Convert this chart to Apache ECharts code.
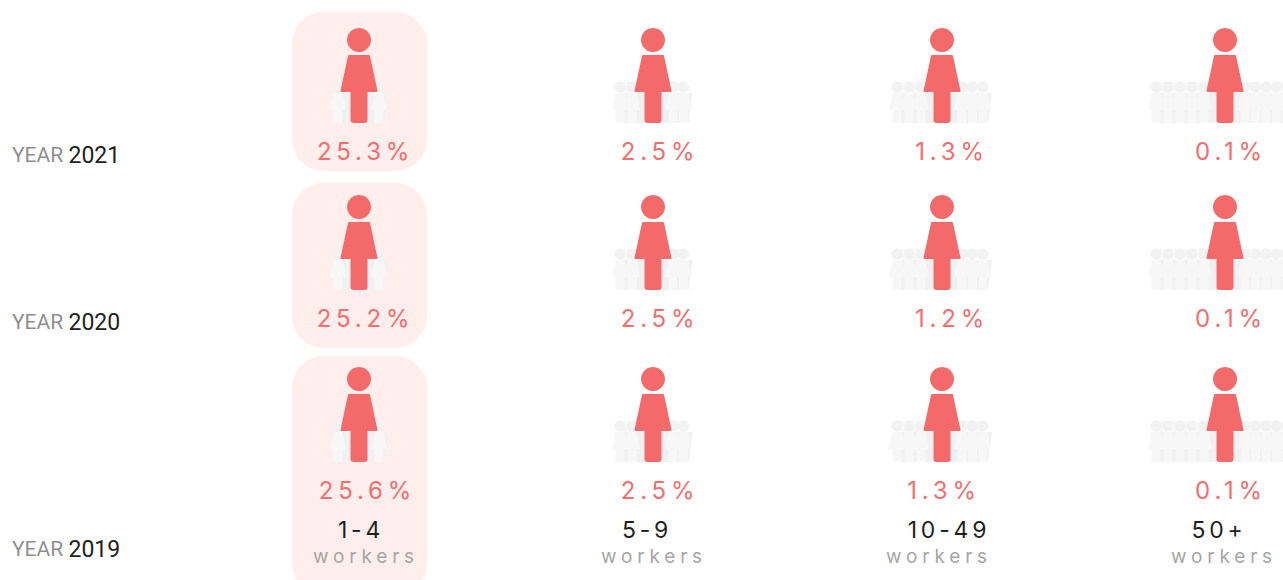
<!DOCTYPE html>
<html>
<head>
<meta charset="utf-8">
<title>Workers by company size</title>
<script src="https://cdn.jsdelivr.net/npm/echarts@6/dist/echarts.min.js"></script>
<style>
html,body{margin:0;padding:0;background:#fff;}
#chart{width:1283px;height:580px;}
/* svg renderer: letter spacing goes through css, picked by text colour */
text[fill="#f56e6e"]{letter-spacing:4.8px;}
text[fill="#1f1f1f"]{letter-spacing:3.8px;}
text[fill="#a6a6a6"]{letter-spacing:4.8px;}
</style>
</head>
<body>
<div id="chart"></div>
<script>
var sizeGroups = ['1-4', '5-9', '10-49', '50+'];
var years = ['2021', '2020', '2019'];
var share2021 = ['25.3%', '2.5%', '1.3%', '0.1%'];
var share2020 = ['25.2%', '2.5%', '1.2%', '0.1%'];
var share2019 = ['25.6%', '2.5%', '1.3%', '0.1%'];
var workersWord = 'workers';
// people standing behind the red figure, per side
var crowdLeft = [1, 2, 3, 5];
var crowdRight = [1, 2, 3, 6];
var highlighted = [1, 0, 0, 0];

// hand tuned pixel nudges, the columns and rows are not evenly spaced
var colNudge = [0, 5, 5, -1];
var headNudge = [-46, -49, -47];
var cardBox = [[-28, 131], [-24, 141], [-23, 216]];
var shareNudge = [[6.5, 7, 10, 6], [6.5, 7, 10, 6], [8.5, 7, 2, 6]];
var tierNudge = [2, -6, 7, -6];
var wordNudge = [7, 1, -3, -1];
var yearY = [155, 322, 549];

var RED = '#f46a6a';

function crowdPerson(cx, hy) {
	return [
		{type: 'circle', shape: {cx: cx, cy: hy + 47, r: 5.5}, style: {fill: '#f2f2f2'}},
		{type: 'polygon', shape: {points: [[cx - 4.5, hy + 53], [cx + 4.5, hy + 53], [cx + 8, hy + 70], [cx - 8, hy + 70]]}, style: {fill: '#f7f7f7'}},
		{type: 'rect', shape: {x: cx - 4.5, y: hy + 70, width: 9, height: 13}, style: {fill: '#f7f7f7'}}
	];
}

// darker strip behind one side of the crowd, the gaps between bodies show it
function crowdBand(a, b, hy) {
	var lo = Math.min(a, b), hi = Math.max(a, b);
	var topEnd = b > a ? hi + 9 : hi;
	var bottomEnd = b > a ? hi + 5 : hi;
	return [
		{type: 'rect', shape: {x: lo, y: hy + 42, width: hi - lo, height: 11}, style: {fill: '#f9f9f9'}},
		{type: 'polygon', shape: {points: [[lo, hy + 53], [topEnd, hy + 53], [bottomEnd, hy + 83], [lo, hy + 83]]}, style: {fill: '#f1f1f1'}}
	];
}

function bigPerson(cx, hy) {
	return [
		{type: 'circle', shape: {cx: cx, cy: hy, r: 12}, style: {fill: RED}},
		{type: 'polygon', shape: {points: [[cx - 10, hy + 16], [cx + 10, hy + 16], [cx + 17.5, hy + 51], [cx - 17.5, hy + 51]]},
			style: {fill: RED, stroke: RED, lineWidth: 2, lineJoin: 'round'}},
		{type: 'rect', shape: {x: cx - 8.5, y: hy + 45, width: 17, height: 38, r: [0, 0, 3, 3]}, style: {fill: RED}}
	];
}

function renderCell(params, api) {
	var col = api.value(0), row = api.value(1);
	var p = api.coord([col, row]);
	var cx = p[0] + colNudge[col];
	var hy = p[1] + headNudge[row];
	var kids = [];
	if (highlighted[col]) {
		kids.push({type: 'rect', shape: {x: cx - 67, y: hy + cardBox[row][0], width: 135, height: cardBox[row][1] - cardBox[row][0], r: 32}, style: {fill: '#ffeeec'}});
	}
	var i;
	var lastLeft = cx - 21 - (crowdLeft[col] - 1) * 12;
	var lastRight = cx + 20 + (crowdRight[col] - 1) * 10.5;
	kids = kids.concat(crowdBand(cx, lastLeft, hy), crowdBand(cx, lastRight, hy));
	for (i = 0; i < crowdLeft[col]; i++) {
		kids = kids.concat(crowdPerson(cx - 21 - i * 12, hy));
	}
	for (i = 0; i < crowdRight[col]; i++) {
		kids = kids.concat(crowdPerson(cx + 20 + i * 10.5, hy));
	}
	kids = kids.concat(bigPerson(cx, hy));
	kids.push({
		type: 'text',
		style: {
			x: cx + shareNudge[row][col], y: hy + 111,
			text: cellData[params.dataIndex][2],
			fill: '#f56e6e', font: '400 24px Inter', textAlign: 'center', textVerticalAlign: 'middle'
		}
	});
	return {type: 'group', children: kids};
}

function renderYear(params, api) {
	var row = api.value(0);
	return {
		type: 'text',
		style: {
			x: 12, y: yearY[row], text: '{a|YEAR} {b|' + years[row] + '}',
			textAlign: 'left', textVerticalAlign: 'middle',
			rich: {
				a: {fill: '#8f8f8f', font: '400 21px Roboto'},
				b: {fill: '#222222', font: '400 23px Roboto', padding: [0, 0, 0, 2]}
			}
		}
	};
}

function renderTier(params, api) {
	var col = api.value(0);
	var p = api.coord([col, 2]);
	var cx = p[0] + colNudge[col];
	return {
		type: 'group',
		children: [
			{type: 'text', style: {x: cx + tierNudge[col], y: 530, text: sizeGroups[col], fill: '#1f1f1f', font: '400 23px Inter', textAlign: 'center', textVerticalAlign: 'middle'}},
			{type: 'text', style: {x: cx + wordNudge[col], y: 556, text: workersWord, fill: '#a6a6a6', font: '400 19px Inter', textAlign: 'center', textVerticalAlign: 'middle'}}
		]
	};
}

var allShares = [share2021, share2020, share2019];
var cellData = [];
allShares.forEach(function (vals, r) {
	vals.forEach(function (v, c) {
		cellData.push([c, r, v]);
	});
});

var chart = echarts.init(document.getElementById('chart'), null, {renderer: 'svg'});
chart.setOption({
	animation: false,
	backgroundColor: '#fff',
	grid: {left: 214.5, top: 1, width: 1156, height: 510, outerBoundsMode: 'none'},
	xAxis: {type: 'category', data: sizeGroups, show: false},
	yAxis: {type: 'category', data: years, inverse: true, show: false},
	series: [
		{type: 'custom', coordinateSystem: 'cartesian2d', data: cellData, renderItem: renderCell, encode: {x: 0, y: 1}, clip: false},
		{type: 'custom', coordinateSystem: 'none', data: years.map(function (y, i) { return [i]; }), renderItem: renderYear},
		{type: 'custom', coordinateSystem: 'cartesian2d', data: sizeGroups.map(function (s, i) { return [i, 2]; }), renderItem: renderTier, encode: {x: 0, y: 1}, clip: false}
	]
});
</script>
</body>
</html>
